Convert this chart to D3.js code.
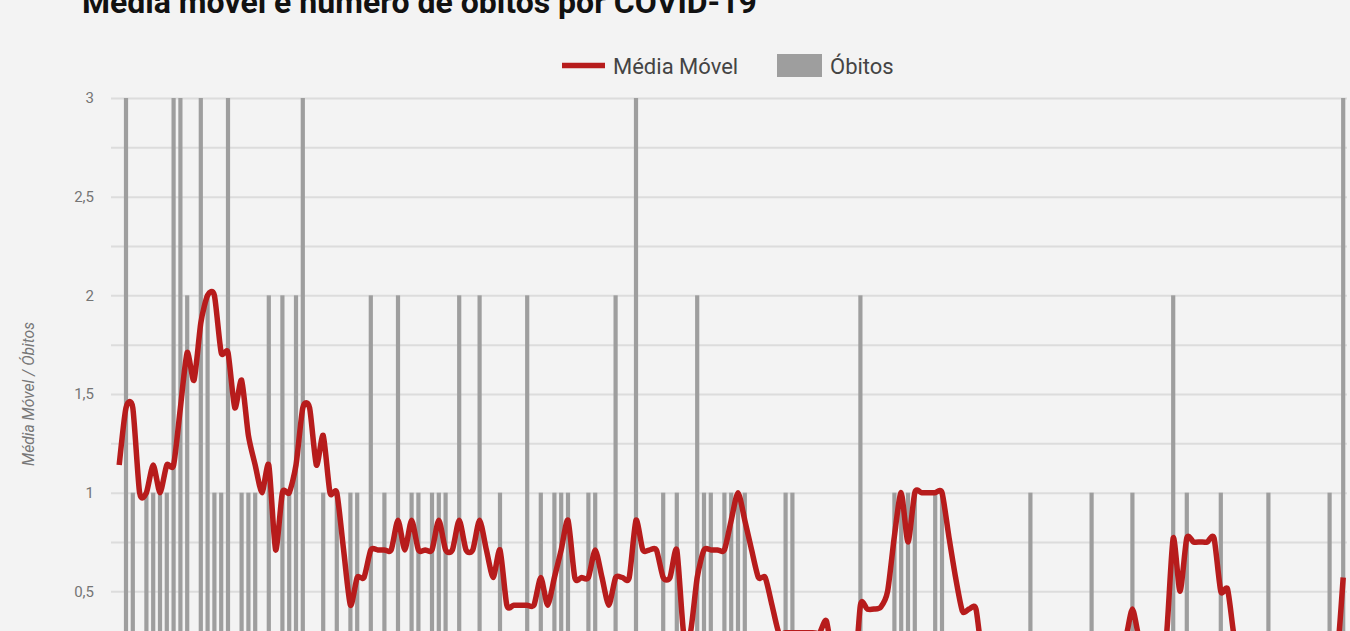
<!DOCTYPE html>
<html><head><meta charset="utf-8">
<script src="https://cdn.jsdelivr.net/npm/d3@7"></script>
<style>
html,body{margin:0;padding:0;background:#f3f3f3;overflow:hidden;}
svg{display:block;}
text{font-family:Roboto, "Noto Sans", sans-serif;}
</style></head><body>
<svg id="chart" width="1350" height="631"></svg>
<script>
// ---------- data ----------
const title = "Média móvel e número de óbitos por COVID-19";
const axisTitle = "Média Móvel / Óbitos";
const seriesNames = ["Média Móvel", "Óbitos"];
const yTickValues = [0.5, 1, 1.5, 2, 2.5, 3];
const yTickLabels = ["0,5", "1", "1,5", "2", "2,5", "3"];
const gridValues = [0.25, 0.5, 0.75, 1, 1.25, 1.5, 1.75, 2, 2.25, 2.5, 2.75, 3];

// daily deaths (one entry per day)
const obitos = [
  0,3,1,0,1,1,1,1,3,3,  2,0,3,2,1,1,3,0,1,1,
  1,0,2,0,2,1,2,3,0,0,  1,0,1,0,1,1,0,2,0,1,
  0,2,0,1,1,0,1,1,1,0,  2,0,0,2,0,0,1,0,0,0,
  2,0,1,0,1,1,1,0,0,1,  1,0,0,2,0,0,3,0,0,0,
  1,0,1,0,0,2,1,1,0,1,  1,1,1,0,0,0,0,0,1,1,
  0,0,0,0,0,0,0,0,0,2,  0,0,0,0,1,1,1,1,0,0,
  1,1,0,0,0,0,0,0,0,0,  0,0,0,0,1,0,0,0,0,0,
  0,0,0,1,0,0,0,0,0,1,  0,0,0,0,0,2,0,1,0,0,
  0,0,1,0,0,0,0,0,0,1,  0,0,0,0,0,0,0,0,1,0,
  3
];

// moving average
const mediaMovel = [
  1.14,1.43,1.43,1.00,1.00,1.14,1.00,1.14,1.14,1.43,
  1.71,1.57,1.86,2.00,2.00,1.71,1.71,1.43,1.57,1.29,
  1.14,1.00,1.14,0.71,1.00,1.00,1.14,1.43,1.43,1.14,
  1.29,1.00,1.00,0.71,0.43,0.57,0.57,0.71,0.71,0.71,
  0.71,0.86,0.71,0.86,0.71,0.71,0.71,0.86,0.71,0.71,
  0.86,0.71,0.71,0.86,0.71,0.57,0.71,0.43,0.43,0.43,
  0.43,0.43,0.57,0.43,0.57,0.71,0.86,0.57,0.57,0.57,
  0.71,0.57,0.43,0.57,0.57,0.57,0.86,0.71,0.71,0.71,
  0.57,0.57,0.71,0.29,0.29,0.57,0.71,0.71,0.71,0.71,
  0.86,1.00,0.86,0.71,0.57,0.57,0.43,0.29,0.29,0.29,
  0.29,0.29,0.29,0.29,0.35,0.14,0,0,0,0.43,
  0.41,0.41,0.42,0.50,0.78,1.00,0.75,1.00,1.00,1.00,
  1.00,1.00,0.78,0.57,0.40,0.41,0.41,0.14,0,0,
  0,0,0,0,0.14,0.14,0.14,0.14,0.14,0.14,
  0.14,0,0,0.14,0.14,0.14,0.14,0.20,0.26,0.41,
  0.26,0.20,0.14,0.14,0.27,0.77,0.50,0.77,0.75,0.75,
  0.75,0.77,0.50,0.51,0.26,0.14,0.14,0.14,0.14,0.14,
  0.14,0.14,0.14,0.14,0.14,0.14,0,0,0.14,0.14,
  0.57
];

// ---------- layout ----------
const area = {left: 111, right: 1347, top: 98, bottom: 690};
const colors = {line: "#b71c1c", bar: "#9e9e9e", grid: "#dcdcdc", tick: "#757575", legend: "#444444", axisTitle: "#777777"};

const svg = d3.select("#chart");
const days = d3.range(obitos.length);

const x = d3.scaleLinear().domain([0, obitos.length - 1]).range([119.2, 1343.2]);
const y = d3.scaleLinear().domain([0, 3]).range([area.bottom, area.top]);

// gridlines
const grid = svg.append("g")
  .attr("transform", `translate(${area.left},0)`)
  .call(d3.axisLeft(y).tickValues(gridValues).tickSize(-(area.right - area.left)).tickFormat(""));
grid.select(".domain").remove();
grid.selectAll(".tick line").attr("stroke", colors.grid).attr("stroke-width", 2);

// y-axis labels
const yAxis = svg.append("g")
  .attr("transform", `translate(${area.left},0)`)
  .call(d3.axisLeft(y).tickValues(yTickValues).tickSize(0).tickPadding(17)
    .tickFormat((d, i) => yTickLabels[i]));
yAxis.select(".domain").remove();
yAxis.selectAll("text").attr("fill", colors.tick).style("font-size", "15px")
  .style("font-family", "Roboto, 'Noto Sans', sans-serif");

// bars
const barW = 4.2;
svg.append("g").selectAll("rect")
  .data(days.filter(i => obitos[i] > 0))
  .join("rect")
  .attr("x", i => x(i) - barW / 2)
  .attr("y", i => y(obitos[i]))
  .attr("width", barW)
  .attr("height", i => y(0) - y(obitos[i]))
  .attr("fill", colors.bar);

// moving-average line
const line = d3.line()
  .x(i => x(i))
  .y(i => y(mediaMovel[i]))
  .curve(d3.curveCardinal.tension(0.3));
svg.append("path")
  .datum(days)
  .attr("d", line)
  .attr("fill", "none")
  .attr("stroke", colors.line)
  .attr("stroke-width", 5.5)
  .attr("stroke-linejoin", "round");

// title (fit to measured width)
const t = svg.append("text")
  .attr("x", 82).attr("y", 13)
  .attr("fill", "#111")
  .style("font-weight", "bold")
  .style("font-size", "28px")
  .text(title);
const tw = t.node().getComputedTextLength();
t.style("font-size", (28 * 675 / tw).toFixed(2) + "px");

// legend
const lg = svg.append("g");
lg.append("line").attr("x1", 562).attr("x2", 605).attr("y1", 65.5).attr("y2", 65.5)
  .attr("stroke", colors.line).attr("stroke-width", 5.5);
lg.append("text").attr("x", 613).attr("y", 73.5)
  .attr("fill", colors.legend).style("font-size", "22px").text(seriesNames[0]);
lg.append("rect").attr("x", 777).attr("y", 54).attr("width", 45).attr("height", 23)
  .attr("fill", colors.bar);
lg.append("text").attr("x", 830).attr("y", 73.5)
  .attr("fill", colors.legend).style("font-size", "22px").text(seriesNames[1]);

// axis title
const at = svg.append("text")
  .attr("transform", "translate(34,394) rotate(-90)")
  .attr("text-anchor", "middle")
  .attr("fill", colors.axisTitle)
  .style("font-style", "italic")
  .style("font-size", "14px")
  .text(axisTitle);
const aw = at.node().getComputedTextLength();
at.style("font-size", (14 * 144 / aw).toFixed(2) + "px");
</script>
</body></html>
